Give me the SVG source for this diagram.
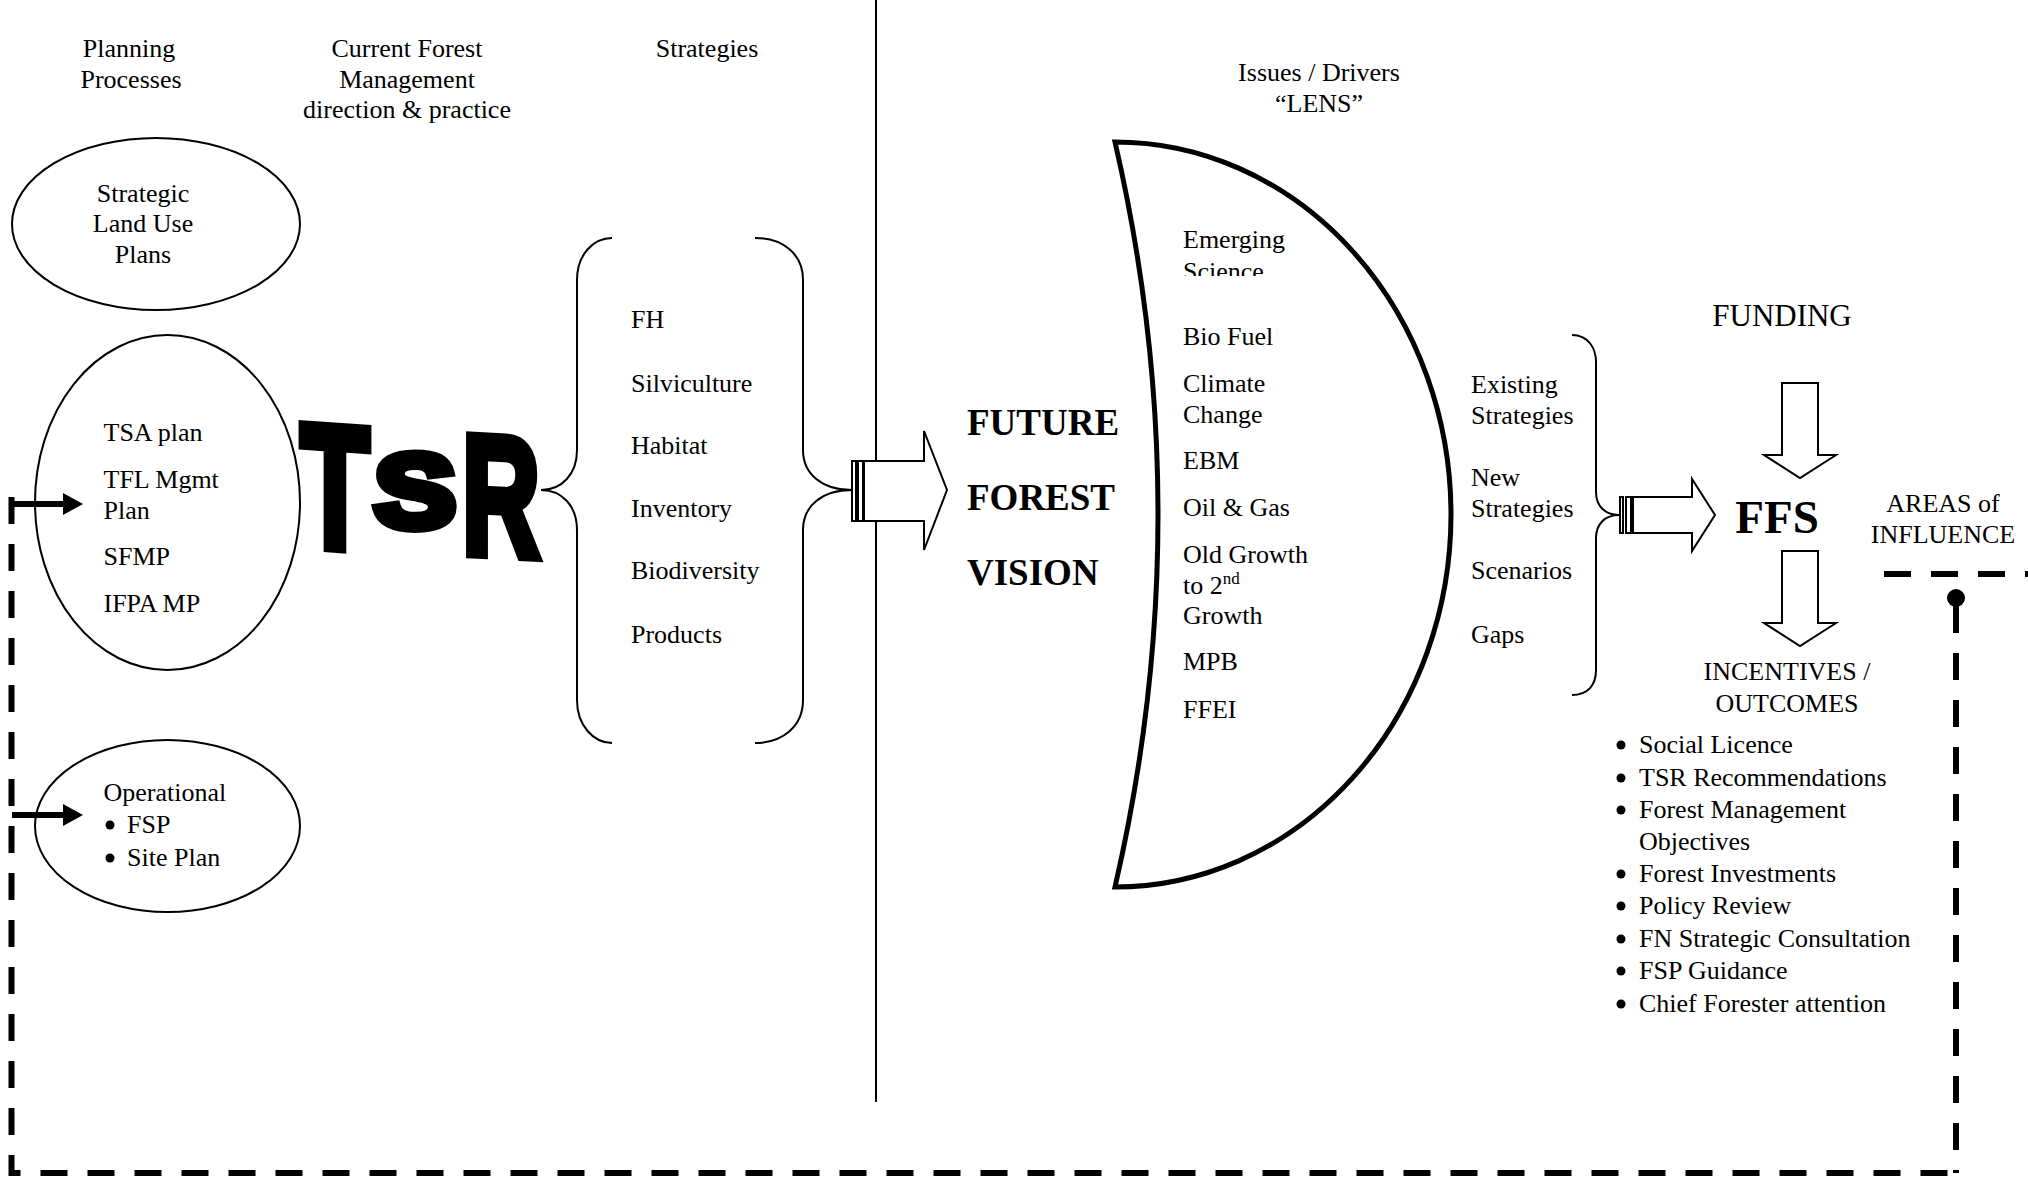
<svg xmlns="http://www.w3.org/2000/svg" width="2028" height="1183" viewBox="0 0 2028 1183">
<style>
  text { font-family: "Liberation Serif", "Times New Roman", serif; font-size: 26px; fill: #000; }
  .c { text-anchor: middle; }
  .big { font-weight: bold; font-size: 37px; }
  .ffs { font-weight: bold; font-size: 47px; }
  .fund { font-size: 31px; }
  .sup { font-size: 17px; }
  .tsr { font-family: "Liberation Sans", Arial, sans-serif; font-weight: bold; fill: #000; stroke: #000; stroke-width: 10; stroke-linejoin: miter; text-anchor: middle; }
  .t1 { font-size: 175px; }
  .t2 { font-size: 103px; }
  .t3 { font-size: 170px; }
  .outline { fill: #fff; stroke: #000; stroke-width: 2; }
  .thin { fill: none; stroke: #000; stroke-width: 2; }
  .dash { fill: none; stroke: #000; stroke-width: 6; stroke-dasharray: 27 20; }
  .solid { fill: none; stroke: #000; stroke-width: 6; }
</style>
<defs>
  <clipPath id="sciClip"><rect x="1170" y="220" width="200" height="56"/></clipPath>
</defs>
<rect x="0" y="0" width="2028" height="1183" fill="#fff"/>

<g id="headers">
  <text class="c" x="129" y="57">Planning</text>
  <text class="c" x="131" y="88">Processes</text>
  <text class="c" x="407" y="57">Current Forest</text>
  <text class="c" x="407" y="88">Management</text>
  <text class="c" x="407" y="118">direction &amp; practice</text>
  <text class="c" x="707" y="57">Strategies</text>
  <text class="c" x="1319" y="81">Issues / Drivers</text>
  <text class="c" x="1319" y="112">“LENS”</text>
</g>

<g id="divider">
  <line x1="876" y1="0" x2="876" y2="1102" stroke="#000" stroke-width="2"/>
</g>

<g id="connectors">
  <path class="dash" d="M11.5,497 L11.5,1173 L1956,1173"/>
  <path class="dash" d="M1956,606 L1956,1173"/>
  <path class="dash" d="M1884,574 L2028,574"/>
  <circle cx="1956" cy="598" r="9" fill="#000"/>
  <line class="solid" x1="12" y1="504" x2="65" y2="504"/>
  <polygon points="63,493 83,504 63,515" fill="#000"/>
  <line class="solid" x1="12" y1="815" x2="65" y2="815"/>
  <polygon points="63,804 83,815 63,826" fill="#000"/>
  <path class="thin" d="M612,238 C594,238 577,254 577,280 L577,450 C577,474 562,490 541,490 C562,490 577,506 577,530 L577,700 C577,726 594,743 612,743"/>
  <path class="thin" d="M755,238 C783,238 803,254 803,280 L803,450 C803,474 822,490 852,490 C822,490 803,506 803,530 L803,700 C803,726 783,743 755,743"/>
  <path class="thin" d="M1572,335 C1588,335 1596,348 1596,362 L1596,492 C1596,506 1605,515 1619,515 C1605,515 1596,524 1596,538 L1596,670 C1596,685 1588,695 1572,695"/>
  <g id="arrow-ffv">
    <rect class="outline" x="852" y="461" width="4" height="60"/>
    <rect class="outline" x="858" y="461" width="5" height="60"/>
    <polygon class="outline" points="864,461 924,461 924,431 947,490 924,550 924,521 864,521"/>
  </g>
  <g id="arrow-ffs">
    <rect class="outline" x="1620" y="497" width="3" height="36"/>
    <rect class="outline" x="1626" y="497" width="5" height="36"/>
    <polygon class="outline" points="1633,497 1692,497 1692,479 1715,515 1692,551 1692,533 1633,533"/>
  </g>
  <polygon id="arrow-funding" class="outline" points="1782,383 1818,383 1818,455 1836,455 1800,478 1764,455 1782,455"/>
  <polygon id="arrow-incentives" class="outline" points="1782,551 1818,551 1818,623 1836,623 1800,646 1764,623 1782,623"/>
</g>

<g id="node-strategic-land-use">
  <ellipse cx="156" cy="224" rx="144" ry="86" fill="none" stroke="#000" stroke-width="2"/>
  <text class="c" x="143" y="202">Strategic</text>
  <text class="c" x="143" y="232">Land Use</text>
  <text class="c" x="143" y="263">Plans</text>
</g>

<g id="node-tsa">
  <ellipse cx="167.5" cy="502.5" rx="132.5" ry="167.5" fill="none" stroke="#000" stroke-width="2"/>
  <text x="103.5" y="441">TSA plan</text>
  <text x="103.5" y="488">TFL Mgmt</text>
  <text x="103.5" y="519">Plan</text>
  <text x="103.5" y="565">SFMP</text>
  <text x="103.5" y="612">IFPA MP</text>
</g>

<g id="node-operational">
  <ellipse cx="167.5" cy="826" rx="132.5" ry="86" fill="none" stroke="#000" stroke-width="2"/>
  <text x="103.5" y="801">Operational</text>
  <circle cx="110" cy="825" r="4.5" fill="#000"/>
  <text x="127" y="833">FSP</text>
  <circle cx="110" cy="858" r="4.5" fill="#000"/>
  <text x="127" y="866">Site Plan</text>
</g>

<g id="node-tsr">
  <text class="tsr t1" transform="translate(335,548) skewY(4) scale(0.645,1)">T</text>
  <text class="tsr t2" transform="translate(415,527) scale(1.18,1)">S</text>
  <text class="tsr t3" transform="translate(501,555) skewY(3) scale(0.635,1)">R</text>
</g>

<g id="node-strategies">
  <text x="631" y="328">FH</text>
  <text x="631" y="392">Silviculture</text>
  <text x="631" y="454">Habitat</text>
  <text x="631" y="517">Inventory</text>
  <text x="631" y="579">Biodiversity</text>
  <text x="631" y="643">Products</text>
</g>

<g id="node-ffv">
  <text class="big" x="967" y="435">FUTURE</text>
  <text class="big" x="967" y="510">FOREST</text>
  <text class="big" x="967" y="585">VISION</text>
</g>

<g id="node-lens">
  <path d="M1115,142 A336,372.5 0 0 1 1115,887 Q1201,514.5 1115,142 Z" fill="#fff" stroke="#000" stroke-width="5" stroke-linejoin="miter"/>
  <text x="1183" y="248">Emerging</text>
  <text x="1183" y="280" clip-path="url(#sciClip)">Science</text>
  <text x="1183" y="345">Bio Fuel</text>
  <text x="1183" y="392">Climate</text>
  <text x="1183" y="423">Change</text>
  <text x="1183" y="469">EBM</text>
  <text x="1183" y="516">Oil &amp; Gas</text>
  <text x="1183" y="563">Old Growth</text>
  <text x="1183" y="594">to 2<tspan class="sup" dy="-10">nd</tspan></text>
  <text x="1183" y="624">Growth</text>
  <text x="1183" y="670">MPB</text>
  <text x="1183" y="718">FFEI</text>
</g>

<g id="node-existing">
  <text x="1471" y="393">Existing</text>
  <text x="1471" y="424">Strategies</text>
  <text x="1471" y="486">New</text>
  <text x="1471" y="517">Strategies</text>
  <text x="1471" y="579">Scenarios</text>
  <text x="1471" y="643">Gaps</text>
</g>

<g id="node-funding">
  <text class="c fund" x="1782" y="326">FUNDING</text>
</g>

<g id="node-ffs">
  <text class="c ffs" x="1777" y="533">FFS</text>
</g>

<g id="node-areas">
  <text class="c" x="1943" y="512">AREAS of</text>
  <text class="c" x="1943" y="543">INFLUENCE</text>
</g>

<g id="node-incentives">
  <text class="c" x="1787" y="680">INCENTIVES /</text>
  <text class="c" x="1787" y="712">OUTCOMES</text>
  <circle cx="1621" cy="745" r="4.5" fill="#000"/>
  <text x="1639" y="753">Social Licence</text>
  <circle cx="1621" cy="778" r="4.5" fill="#000"/>
  <text x="1639" y="786">TSR Recommendations</text>
  <circle cx="1621" cy="810" r="4.5" fill="#000"/>
  <text x="1639" y="818">Forest Management</text>
  <text x="1639" y="850">Objectives</text>
  <circle cx="1621" cy="874" r="4.5" fill="#000"/>
  <text x="1639" y="882">Forest Investments</text>
  <circle cx="1621" cy="906" r="4.5" fill="#000"/>
  <text x="1639" y="914">Policy Review</text>
  <circle cx="1621" cy="939" r="4.5" fill="#000"/>
  <text x="1639" y="947">FN Strategic Consultation</text>
  <circle cx="1621" cy="971" r="4.5" fill="#000"/>
  <text x="1639" y="979">FSP Guidance</text>
  <circle cx="1621" cy="1004" r="4.5" fill="#000"/>
  <text x="1639" y="1012">Chief Forester attention</text>
</g>
</svg>
